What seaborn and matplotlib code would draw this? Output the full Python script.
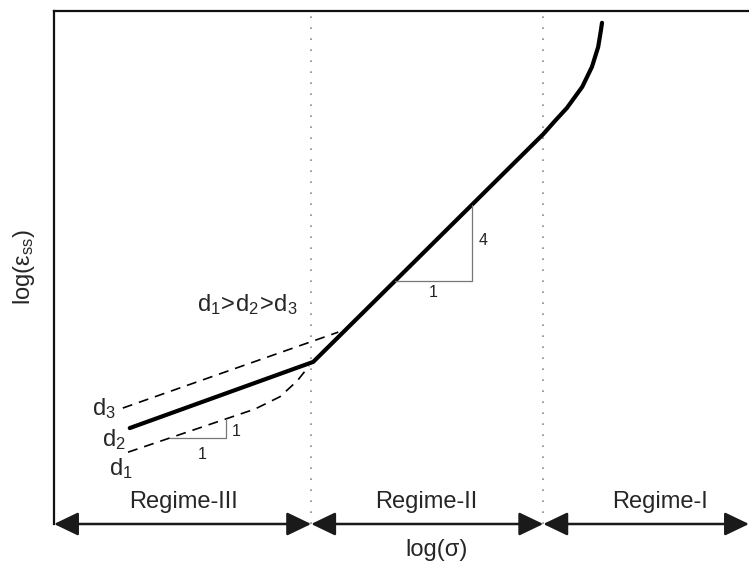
import numpy as np
import matplotlib
matplotlib.use('Agg')
import matplotlib.pyplot as plt
import seaborn as sns

sns.set_theme(style='white')
plt.rcParams['font.family'] = ['Liberation Sans', 'DejaVu Sans']
plt.rcParams['mathtext.fontset'] = 'custom'
plt.rcParams['mathtext.rm'] = 'Liberation Sans'
plt.rcParams['mathtext.it'] = 'Liberation Sans'
plt.rcParams['mathtext.bf'] = 'Liberation Sans:bold'

# ---- data (schematic log-log coordinates, arbitrary units 0..100) ----
main_x = [10.9, 37.3, 70.4, 72.1, 73.8, 76.0, 77.4, 78.3, 78.7, 78.85]
main_y = [18.7, 31.6, 76.0, 78.6, 81.1, 85.2, 89.1, 93.0, 96.3, 97.7]
d3_x = [9.9, 40.9]
d3_y = [22.6, 37.4]
d1_x = [10.65, 28.9, 32.5, 35.0, 36.7]
d1_y = [14.0, 22.4, 24.8, 27.9, 30.8]
boundaries = [0.0, 37.0, 70.4, 100.0]
regimes = ['Regime-III', 'Regime-II', 'Regime-I']
regime_label_x = [18.6, 53.6, 87.2]
small_tri_x = [16.7, 24.7]
big_tri_x = [49.1, 60.1]

fig = plt.figure(figsize=(7.49, 5.65), dpi=100)
ax = fig.add_axes([54 / 749, 41 / 565, 695 / 749, 513 / 565])
ax.set_xlim(0, 100)
ax.set_ylim(0, 100)
ax.set_xticks([])
ax.set_yticks([])
for s in ['right', 'bottom']:
    ax.spines[s].set_visible(False)
for s in ['left', 'top']:
    ax.spines[s].set_color('#111111')
    ax.spines[s].set_linewidth(1.6)

# regime boundaries (dotted)
ax.vlines(boundaries[1:3], 0, 100, colors='#8a8a8a', lw=1.2,
          linestyles=[(0, (1, 5.6))])

# curves
sns.lineplot(x=main_x, y=main_y, sort=False, estimator=None, color='black',
             lw=3, ax=ax, solid_capstyle='round', solid_joinstyle='round')
sns.lineplot(x=d3_x, y=d3_y, sort=False, estimator=None, color='black',
             lw=1.2, ax=ax, dashes=False, linestyle=(0, (6, 4.2)))
sns.lineplot(x=d1_x, y=d1_y, sort=False, estimator=None, color='black',
             lw=1.2, ax=ax, dashes=False, linestyle=(0, (6, 4.2)))

# slope triangles
tri_c = '#777777'
ys = np.interp(small_tri_x, d1_x, d1_y)
ax.plot([small_tri_x[0], small_tri_x[1], small_tri_x[1]],
        [ys[0], ys[0], ys[1]], color=tri_c, lw=0.9)
ax.text(small_tri_x[1] + 1.5, (ys[0] + ys[1]) / 2 - 0.6, '1', fontsize=11.5,
        ha='center', va='center', color='#222222')
ax.text((small_tri_x[0] + small_tri_x[1]) / 2 + 0.6, ys[0] - 3.2, '1',
        fontsize=11.5, ha='center', va='center', color='#222222')

yb = np.interp(big_tri_x, main_x, main_y)
ax.plot([big_tri_x[0], big_tri_x[1], big_tri_x[1]],
        [yb[0], yb[0], yb[1]], color=tri_c, lw=0.9)
ax.text(big_tri_x[1] + 1.6, (yb[0] + yb[1]) / 2 + 0.5, '4', fontsize=11.5,
        ha='center', va='center', color='#222222')
ax.text((big_tri_x[0] + big_tri_x[1]) / 2, yb[0] - 2.3, '1', fontsize=11.5,
        ha='center', va='center', color='#222222')

# labels of grain size
fs = 17
ax.text(7.2, 22.6, r'$\mathregular{d_3}$', fontsize=fs, ha='center', va='center')
ax.text(8.6, 16.4, r'$\mathregular{d_2}$', fontsize=fs, ha='center', va='center')
ax.text(9.6, 10.9, r'$\mathregular{d_1}$', fontsize=fs, ha='center', va='center')
ax.text(27.8, 42.7, r'$\mathregular{d_1\!>\!d_2\!>\!d_3}$', fontsize=fs,
        ha='center', va='center')

# regime arrows
for i in range(3):
    ax.annotate('', xy=(boundaries[i], 0), xytext=(boundaries[i + 1], 0),
                arrowprops=dict(arrowstyle='<|-|>,head_length=0.75,head_width=0.36',
                                mutation_scale=20, color='#1a1a1a', lw=1.8,
                                shrinkA=0, shrinkB=0),
                annotation_clip=False)
    ax.text(regime_label_x[i], 4.2, regimes[i], fontsize=fs,
            ha='center', va='center')

# axis labels
ax.text(55.0, -5.0, 'log(σ)', fontsize=fs, ha='center', va='center',
        clip_on=False)
ax.text(-4.3, 50.0, r'log($\mathregular{\varepsilon_{ss}}$)', fontsize=fs,
        ha='center', va='center', rotation=90, clip_on=False)

fig.savefig('out.png', dpi=100)
